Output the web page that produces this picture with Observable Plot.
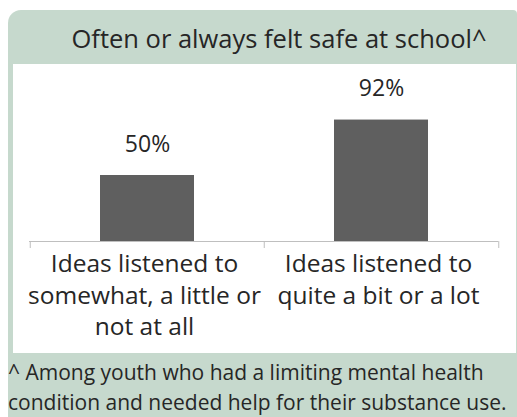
<!DOCTYPE html>
<html><head><meta charset="utf-8">
<script src="https://cdn.jsdelivr.net/npm/d3@7"></script>
<script src="https://cdn.jsdelivr.net/npm/@observablehq/plot@0.6"></script>
<style>
body{margin:0;background:#fff;font-family:"Open Sans",sans-serif;color:#262626;}
#panel{position:absolute;left:8px;top:10px;width:509px;height:407px;background:#c6d9cd;border-top-left-radius:13px;border-top-right-radius:4px;overflow:hidden;}
#title{position:absolute;left:0;width:542px;top:15.5px;text-align:center;font-size:25.5px;line-height:25.5px;white-space:nowrap;}
#chart{position:absolute;left:5px;top:54px;width:503px;height:289px;background:#fff;}
#caption{position:absolute;left:0px;top:347px;font-size:21px;line-height:30px;white-space:nowrap;}
</style></head>
<body>
<div id="panel">
  <div id="title"></div>
  <div id="chart"></div>
  <div id="caption"></div>
</div>
<script>
const title = "Often or always felt safe at school^";
const categories = ["Ideas listened to\nsomewhat, a little or\nnot at all", "Ideas listened to\nquite a bit or a lot"];
const values = [50, 92];
const captionLines = ["^ Among youth who had a limiting mental health", "condition and needed help for their substance use."];

document.getElementById("title").textContent = title;
document.getElementById("caption").innerHTML = captionLines.map(s => `<div>${s}</div>`).join("");

const data = categories.map((c, i) => ({cat: c, value: values[i]}));
const W = 503, H = 289, ML = 16, MR = 18;
const step = (W - ML - MR) / categories.length;
const axisColor = "#bfbfbf";

const chart = Plot.plot({
  width: W, height: H,
  marginLeft: ML, marginRight: MR, marginTop: 45, marginBottom: 112,
  style: {background: "transparent", fontFamily: "'Open Sans', sans-serif", color: "#262626"},
  x: {type: "band", domain: categories, paddingInner: 0.6, paddingOuter: 0.3, axis: null},
  y: {domain: [0, 100], axis: null},
  marks: [
    Plot.barY(data, {x: "cat", y: "value", fill: "#5f5f5f"}),
    Plot.ruleY([0], {stroke: axisColor, strokeWidth: 1}),
    Plot.ruleX(categories, {x: d => d, dx: -step / 2, y1: 0, y2: 0, insetBottom: -7, stroke: axisColor}),
    Plot.ruleX(categories.slice(-1), {x: d => d, dx: step / 2, y1: 0, y2: 0, insetBottom: -7, stroke: axisColor}),
    Plot.text(data, {x: "cat", y: "value", text: d => d.value + "%", dy: -24, lineAnchor: "bottom", fontSize: 23, fill: "#262626"}),
    Plot.text(data, {x: "cat", y: 0, text: "cat", lineAnchor: "top", dx: -3, dy: 8.5, fontSize: 24.5, lineHeight: 1.28, fill: "#262626"})
  ]
});
document.getElementById("chart").appendChild(chart);
</script>
</body></html>
